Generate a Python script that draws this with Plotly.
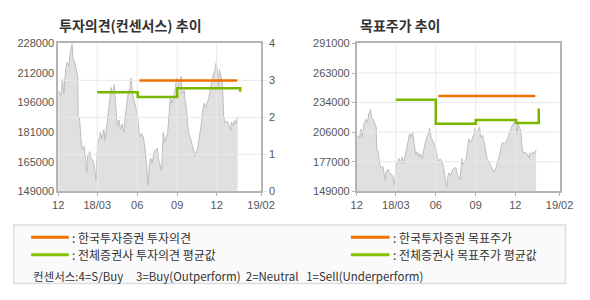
import plotly.graph_objects as go

# ---------------- data ----------------
dates = ["2017-12-01","2017-12-07","2017-12-11","2017-12-14","2017-12-18","2017-12-22","2017-12-26",
         "2017-12-29","2018-01-02","2018-01-04","2018-01-08","2018-01-11","2018-01-15","2018-01-16",
         "2018-01-19","2018-01-23","2018-01-26","2018-01-30","2018-02-02","2018-02-05","2018-02-07",
         "2018-02-12","2018-02-14","2018-02-20","2018-02-22","2018-02-26","2018-02-27","2018-03-02",
         "2018-03-05","2018-03-08","2018-03-12","2018-03-16","2018-03-19","2018-03-23","2018-03-26",
         "2018-03-30","2018-04-02","2018-04-05","2018-04-09","2018-04-12","2018-04-16","2018-04-20",
         "2018-04-23","2018-04-27","2018-05-01","2018-05-04","2018-05-08","2018-05-11","2018-05-15",
         "2018-05-18","2018-05-21","2018-05-24","2018-05-28","2018-06-01","2018-06-05","2018-06-08",
         "2018-06-11","2018-06-15","2018-06-19","2018-06-22","2018-06-26","2018-06-29","2018-07-02",
         "2018-07-05","2018-07-10","2018-07-13","2018-07-17","2018-07-20","2018-07-24","2018-07-27",
         "2018-07-31","2018-08-03","2018-08-07","2018-08-10","2018-08-14","2018-08-16","2018-08-20",
         "2018-08-24","2018-08-28","2018-08-30","2018-09-03","2018-09-06","2018-09-10","2018-09-12",
         "2018-09-17","2018-09-19","2018-09-21","2018-09-25","2018-09-27","2018-10-01","2018-10-05",
         "2018-10-08","2018-10-12","2018-10-15","2018-10-18","2018-10-22","2018-10-26","2018-10-29",
         "2018-11-02","2018-11-06","2018-11-09","2018-11-13","2018-11-16","2018-11-21","2018-11-23",
         "2018-11-27","2018-11-30","2018-12-03","2018-12-05","2018-12-07","2018-12-11","2018-12-14",
         "2018-12-17","2018-12-20","2018-12-24","2018-12-28","2019-01-02","2019-01-04","2019-01-08",
         "2019-01-11","2019-01-15","2019-01-18"]
prices = [202700,200000,208700,201000,213800,218100,216000,
          223200,227500,220000,218000,214700,210400,189000,
          188000,175300,171300,173000,165000,159000,168000,
          170200,167000,165000,163000,154800,160000,176000,
          176000,180500,177000,182000,176000,183900,187300,
          197600,204400,201000,206000,196000,184000,187000,
          182000,185000,180500,188000,196000,201000,204400,
          209500,201000,198000,194000,190700,180500,178000,
          180000,178000,171900,163000,152200,164000,166800,
          164000,170000,171000,172000,166000,163000,160000,
          180500,175000,178000,180000,192400,199300,196000,
          199000,204400,209500,205000,207000,210400,201000,
          203000,198000,195800,185600,180000,178000,173600,
          172000,167600,170000,172000,178000,183900,191000,
          196000,194000,196000,199000,203000,209000,211200,
          214000,218100,212000,204000,214000,209000,207000,
          189000,185600,186500,185000,181300,186000,184000,
          187000,185000,189000]

# consensus opinion (1..4)
cons_avg_dates = ["2018-03-01", "2018-06-02", "2018-09-01", "2019-01-24"]
cons_avg = [2.68, 2.55, 2.79, 2.69]
kis_op_dates = ["2018-06-06", "2019-01-17"]
kis_op = [3.0, 3.0]

# target price
tp_avg_dates = ["2018-03-01", "2018-06-01", "2018-09-01", "2018-12-03", "2019-01-24"]
tp_avg = [236800, 213800, 217500, 214700, 228600]
kis_tp_dates = ["2018-06-07", "2019-01-16"]
kis_tp = [240500, 240500]

x_tickvals = ["2017-12-01", "2018-03-01", "2018-06-01", "2018-09-01", "2018-12-01", "2019-03-13"]
x_ticktext = ["12", "18/03", "06", "09", "12", "19/02"]
x_range = ["2017-12-01", "2019-03-13"]

y1_tickvals = [149000, 164800, 180600, 196400, 212200, 228000]
y1_ticktext = ["149000", "165000", "181000", "196000", "212000", "228000"]
y2_tickvals = [0, 1, 2, 3, 4]
y3_tickvals = [149000, 177400, 205800, 234200, 262600, 291000]
y3_ticktext = ["149000", "177000", "206000", "234000", "263000", "291000"]

# ---------------- style ----------------
ORANGE = "#f07000"
GREEN = "#7ab800"
LEG_GREEN = "#88c100"
GRID = "#e9e9e9"
AXIS = "#b4b4b4"
AREA_FILL = "#e0e0e0"
AREA_LINE = "#bdbdbd"
TICKFONT = dict(family="Liberation Sans, Arial, sans-serif", size=11, color="#555555")
KFONT = "Noto Sans CJK KR, sans-serif"

W, H = 590, 300
def px_x(v): return v / W
def px_y(v): return 1 - v / H

fig = go.Figure()

# ---- left chart: price area ----
fig.add_trace(go.Scatter(x=dates, y=prices, mode="lines", fill="tozeroy",
                         fillcolor=AREA_FILL, line=dict(color=AREA_LINE, width=1),
                         xaxis="x", yaxis="y", hoverinfo="skip", showlegend=False))
# gridlines (drawn above area)
for t in x_tickvals[1:-1]:
    fig.add_trace(go.Scatter(x=[t, t], y=[0, 4], mode="lines", line=dict(color=GRID, width=1),
                             xaxis="x", yaxis="y2", hoverinfo="skip", showlegend=False))
for t in y2_tickvals[1:-1]:
    fig.add_trace(go.Scatter(x=x_range, y=[t, t], mode="lines", line=dict(color=GRID, width=1),
                             xaxis="x", yaxis="y2", hoverinfo="skip", showlegend=False))
fig.add_trace(go.Scatter(x=kis_op_dates, y=kis_op, mode="lines", line=dict(color=ORANGE, width=2.5),
                         xaxis="x", yaxis="y2", hoverinfo="skip", showlegend=False))
fig.add_trace(go.Scatter(x=cons_avg_dates, y=cons_avg, mode="lines", line=dict(color=GREEN, width=2.5, shape="hv"),
                         xaxis="x", yaxis="y2", hoverinfo="skip", showlegend=False))

# ---- right chart ----
fig.add_trace(go.Scatter(x=dates, y=prices, mode="lines", fill="tozeroy",
                         fillcolor=AREA_FILL, line=dict(color=AREA_LINE, width=1),
                         xaxis="x2", yaxis="y3", hoverinfo="skip", showlegend=False))
for t in x_tickvals[1:-1]:
    fig.add_trace(go.Scatter(x=[t, t], y=[y3_tickvals[0], y3_tickvals[-1]], mode="lines",
                             line=dict(color=GRID, width=1),
                             xaxis="x2", yaxis="y3", hoverinfo="skip", showlegend=False))
for t in y3_tickvals[1:-1]:
    fig.add_trace(go.Scatter(x=x_range, y=[t, t], mode="lines", line=dict(color=GRID, width=1),
                             xaxis="x2", yaxis="y3", hoverinfo="skip", showlegend=False))
fig.add_trace(go.Scatter(x=kis_tp_dates, y=kis_tp, mode="lines", line=dict(color=ORANGE, width=2.5),
                         xaxis="x2", yaxis="y3", hoverinfo="skip", showlegend=False))
fig.add_trace(go.Scatter(x=tp_avg_dates, y=tp_avg, mode="lines", line=dict(color=GREEN, width=2.5, shape="hv"),
                         xaxis="x2", yaxis="y3", hoverinfo="skip", showlegend=False))

xaxis_common = dict(type="date", range=x_range, tickmode="array", tickvals=x_tickvals,
                    ticktext=x_ticktext, showgrid=False, zeroline=False, showline=True,
                    linecolor=AXIS, linewidth=1.5, mirror=True, ticks="outside", ticklen=3,
                    tickcolor=AXIS, tickfont=TICKFONT, ticklabelstandoff=0)

fig.update_layout(
    width=W, height=H,
    margin=dict(l=0, r=0, t=0, b=0),
    paper_bgcolor="white", plot_bgcolor="white",
    showlegend=False,
    xaxis=dict(domain=[px_x(54), px_x(264)], anchor="y", **xaxis_common),
    yaxis=dict(domain=[px_y(193), px_y(39)], range=[149000, 228000], tickmode="array",
               tickvals=y1_tickvals, ticktext=y1_ticktext, showgrid=False, zeroline=False,
               showline=True, linecolor=AXIS, linewidth=1.5, ticks="", tickfont=TICKFONT,
               anchor="x"),
    yaxis2=dict(range=[0, 4], tickmode="array", tickvals=y2_tickvals, overlaying="y", side="right",
                showgrid=False, zeroline=False, showline=True, linecolor=AXIS, linewidth=1.5,
                ticks="outside", ticklen=4, tickcolor=GRID, tickfont=TICKFONT, anchor="x"),
    xaxis2=dict(domain=[px_x(363), px_x(573)], anchor="y3", **xaxis_common),
    yaxis3=dict(domain=[px_y(193), px_y(39)], range=[149000, 291000], tickmode="array",
                tickvals=y3_tickvals, ticktext=y3_ticktext, showgrid=False, zeroline=False,
                showline=True, linecolor=AXIS, linewidth=1.5, mirror=True, ticks="outside",
                ticklen=3, tickcolor=AXIS, tickfont=TICKFONT, anchor="x2"),
)

# titles
fig.add_annotation(text="<b>투자의견(컨센서스) 추이</b>", x=px_x(53), y=px_y(20), xref="paper", yref="paper",
                   xanchor="left", yanchor="middle", showarrow=False,
                   font=dict(family=KFONT, size=14, color="#333333"))
fig.add_annotation(text="<b>목표주가 추이</b>", x=px_x(364), y=px_y(20), xref="paper", yref="paper",
                   xanchor="left", yanchor="middle", showarrow=False,
                   font=dict(family=KFONT, size=14, color="#333333"))

# legend box
fig.add_shape(type="rect", xref="paper", yref="paper", x0=px_x(8), x1=px_x(579), y0=px_y(289), y1=px_y(228),
              line=dict(color="#dddddd", width=1.5), fillcolor="#fafafa", layer="below")

legend_items = [
    (26, 65, 241, ORANGE, ": 한국투자증권 투자의견"),
    (26, 65, 259, LEG_GREEN, ": 전체증권사 투자의견 평균값"),
    (357, 397, 241, ORANGE, ": 한국투자증권 목표주가"),
    (357, 397, 259, LEG_GREEN, ": 전체증권사 목표주가 평균값"),
]
for x0, x1, yy, col, txt in legend_items:
    fig.add_shape(type="line", xref="paper", yref="paper", x0=px_x(x0), x1=px_x(x1),
                  y0=px_y(yy), y1=px_y(yy), line=dict(color=col, width=3))
    fig.add_annotation(text=txt, x=px_x(x1 + 1), y=px_y(yy), xref="paper", yref="paper",
                       xanchor="left", yanchor="middle", showarrow=False,
                       font=dict(family=KFONT, size=12, color="#333333"))

nb = "\u00a0"
note = ("컨센서스:4=S/Buy" + nb * 5 + "3=Buy(Outperform)" + nb * 2 + "2=Neutral" + nb * 3 +
        "1=Sell(Underperform)")
fig.add_annotation(text=note, x=px_x(26), y=px_y(281.5), xref="paper", yref="paper",
                   xanchor="left", yanchor="middle", showarrow=False,
                   font=dict(family=KFONT, size=11.5, color="#333333"))

fig.write_html("out.html")
